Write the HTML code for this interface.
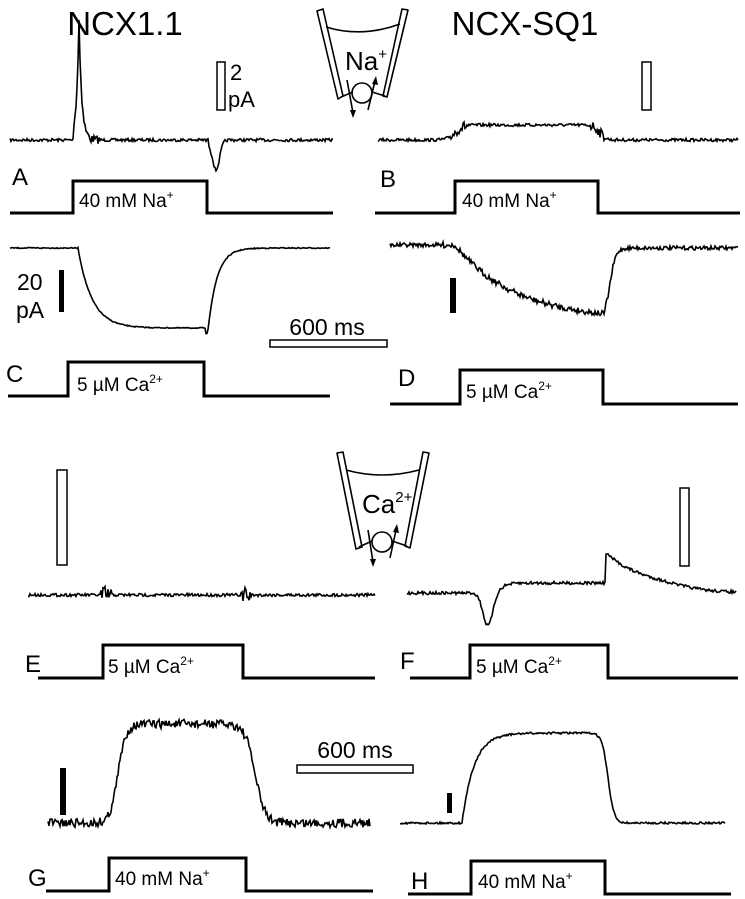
<!DOCTYPE html>
<html><head><meta charset="utf-8"><style>
html,body{margin:0;padding:0;background:#fff;}
svg{display:block;}
text{font-family:"Liberation Sans",Arial,sans-serif;fill:#000;}
</style></head><body>
<svg id="s" width="745" height="899" viewBox="0 0 745 899" xmlns="http://www.w3.org/2000/svg">
<g fill="none" stroke="#000" stroke-width="3">
<path d="M10 213H73V181H207V213H333"/>
<path d="M375 213H455V181H598V213H740"/>
<path d="M8 396H68V362H204V396H330"/>
<path d="M390 404H460V370H603V404H738"/>
<path d="M38 678H103V645H243V678H375"/>
<path d="M410 678H470V645H608V678H738"/>
<path d="M46 891H109V858H246V891H373"/>
<path d="M408 894H471V861H605V894H731"/>
</g>
<g fill="none" stroke="#000" stroke-width="1.5">
<rect x="217" y="62" width="8" height="48"/>
<rect x="642" y="62" width="9" height="48"/>
<rect x="270" y="340" width="117" height="7"/>
<rect x="57" y="470" width="10" height="95"/>
<rect x="680" y="488" width="9" height="78"/>
<rect x="297" y="765" width="116" height="8"/>
</g>
<g fill="#000">
<rect x="59" y="270" width="5" height="42"/>
<rect x="450" y="278" width="6" height="35"/>
<rect x="60" y="768" width="6" height="47"/>
<rect x="447" y="793" width="5" height="20"/>
</g>
<text x="125" y="35" font-size="33" text-anchor="middle">NCX1.1</text>
<text x="525" y="35" font-size="33" text-anchor="middle">NCX-SQ1</text>
<text x="230" y="80" font-size="22">2</text>
<text x="228" y="107" font-size="22">pA</text>
<text x="17" y="290" font-size="23">20</text>
<text x="16" y="318" font-size="23">pA</text>
<text x="327" y="335" font-size="23" text-anchor="middle">600 ms</text>
<text x="355" y="758" font-size="23" text-anchor="middle">600 ms</text>
<g font-size="24">
<text x="12" y="185">A</text><text x="380" y="187">B</text>
<text x="6" y="382">C</text><text x="398" y="386">D</text>
<text x="25" y="672">E</text><text x="400" y="669">F</text>
<text x="28" y="886">G</text><text x="411" y="889">H</text>
</g>
<g font-size="19">
<text x="79" y="207">40 mM Na<tspan font-size="12" dy="-8">+</tspan></text>
<text x="462" y="207">40 mM Na<tspan font-size="12" dy="-8">+</tspan></text>
<text x="77" y="391">5 µM Ca<tspan font-size="12" dy="-8">2+</tspan></text>
<text x="466" y="398">5 µM Ca<tspan font-size="12" dy="-8">2+</tspan></text>
<text x="108" y="673">5 µM Ca<tspan font-size="12" dy="-8">2+</tspan></text>
<text x="476" y="673">5 µM Ca<tspan font-size="12" dy="-8">2+</tspan></text>
<text x="115" y="885">40 mM Na<tspan font-size="12" dy="-8">+</tspan></text>
<text x="478" y="888">40 mM Na<tspan font-size="12" dy="-8">+</tspan></text>
</g>
<g fill="none" stroke="#000" stroke-width="1.6" stroke-linejoin="round">
<path d="M317 11 L323 9 L343 96 L338 99 Z"/>
<path d="M402 9 L408 10 L387 97 L383 96 Z"/>
<path d="M341 97 L353 92 M385 96 L372 92"/>
<path d="M326 27 Q362 38 400 24"/>
<circle cx="362" cy="93" r="10"/>
<path d="M347 80 L353 113 M368 110 L375 81"/>
<path d="M337 453 L343 452 L362 547 L356 549 Z"/>
<path d="M423 452 L429 453 L410 548 L405 546 Z"/>
<path d="M359 547 L372 541 M407 546 L392 541"/>
<path d="M346 470 Q382 480 419 470"/>
<circle cx="382" cy="542" r="10"/>
<path d="M368 530 L373 562 M390 558 L396 530"/>
</g>
<g fill="#000"><path d="M350 110 L353 118 L356 110Z M372 84 L376 76 L378 85Z M370 559 L373 567 L376 559Z M393 532 L397 524 L399 533Z"/></g>
<text x="345" y="70" font-size="26">Na<tspan font-size="15" dy="-11">+</tspan></text>
<text x="362" y="513" font-size="26">Ca<tspan font-size="15" dy="-11">2+</tspan></text>
<g id="tr" fill="none" stroke="#000" stroke-width="1.6"></g>
</svg>
<script>
var seed=7;function r(){seed=(seed*16807)%2147483647;return seed/2147483647-0.5;}
function sig(x,a,b){return 1/(1+Math.exp(-(x-a)/b));}
function tr(x0,x1,f,n){var d='';for(var x=x0;x<=x1;x+=1){var y=f(x)+r()*n(x);d+=(x==x0?'M':'L')+x+' '+y.toFixed(1);}
var p=document.createElementNS('http://www.w3.org/2000/svg','path');p.setAttribute('d',d);document.getElementById('tr').appendChild(p);}
var c=function(v){return function(){return v;};};
tr(10,333,function(x){var y=140;if(x>=74&&x<=90)y-=Math.max(0,120*Math.exp(-Math.abs(x-79)/2.5));if(x>80&&x<100)y-=6*Math.exp(-(x-80)/6);if(x>=208&&x<240){y+=30*Math.exp(-Math.pow((x-216)/5,2));}return y;},function(x){return (x>74&&x<100)||(x>205&&x<212)?8:3;});
tr(378,738,function(x){return 140-15*sig(x,455,4)*(1-sig(x,600,3));},function(x){return (x>450&&x<470)||(x>590&&x<605)?10:3;});
tr(10,330,function(x){if(x<206)return 248+80*(1-Math.exp(-Math.max(0,x-78)/14));if(x<208)return 334;return 330-82*(1-Math.exp(-(x-208)/9));},c(1));
tr(390,738,function(x){if(x<605)return 245+75*(1-Math.exp(-Math.max(0,x-455)/60));return 320-72*sig(x,610,3);},function(x){return x>440&&x<620?6:4;});
tr(28,375,c(595),function(x){return (x>100&&x<112)||(x>240&&x<252)?18:3;});
tr(407,736,function(x){var y=593;if(x>473&&x<520)y+=33*Math.exp(-Math.pow((x-488)/7,2));if(x>488)y-=10*sig(x,500,5);if(x>=606)y=593-8-32*Math.exp(-(x-606)/35)+8*sig(x,680,15);return y;},c(3));
tr(48,370,function(x){return 823-99*sig(x,118,4)*(1-sig(x,255,5));},c(9));
tr(400,725,function(x){return 823-90*(1-Math.exp(-Math.max(0,x-462)/12))*(1-sig(x,608,3));},c(2));
</script>
</body></html>
